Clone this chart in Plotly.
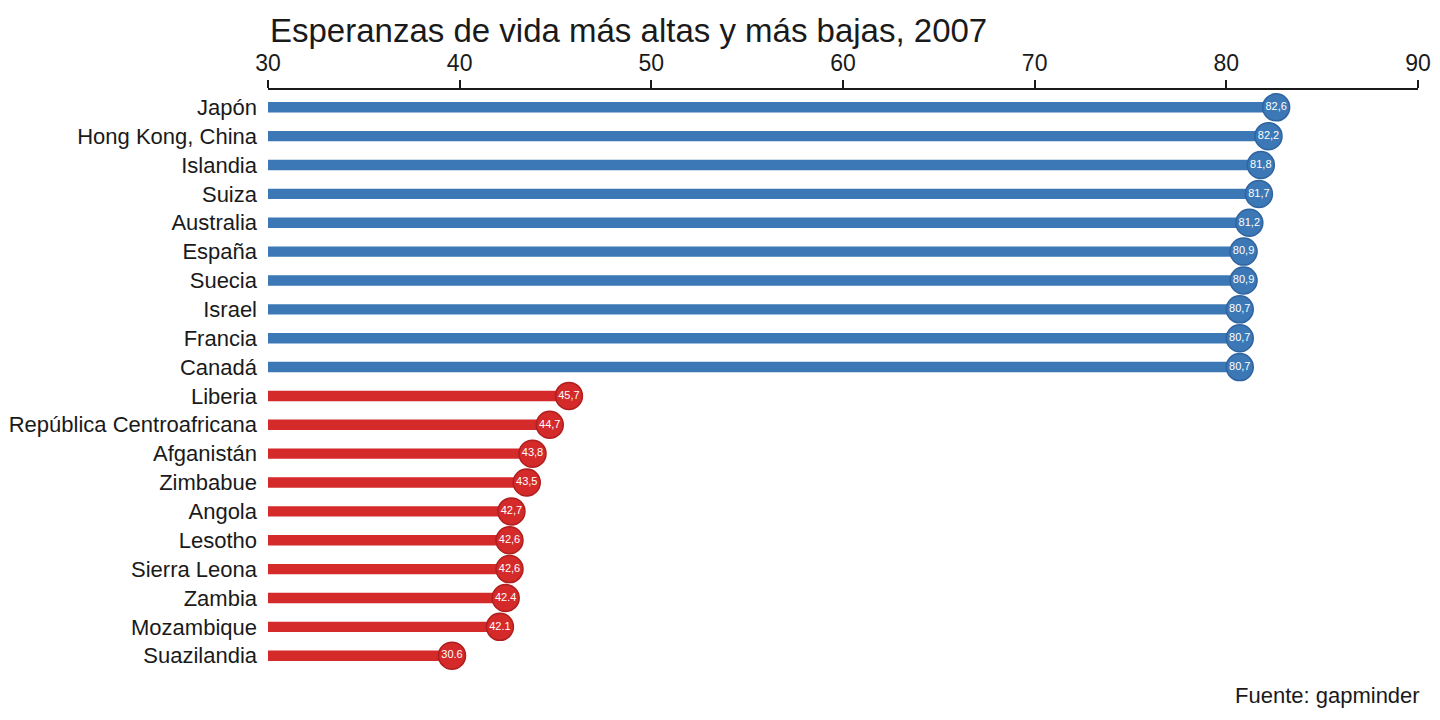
"""Lollipop chart: highest and lowest life expectancies, 2007."""

import plotly.graph_objects as go

# Data
countries = [
    "Japón", "Hong Kong, China", "Islandia", "Suiza", "Australia",
    "España", "Suecia", "Israel", "Francia", "Canadá",
    "Liberia", "República Centroafricana", "Afganistán", "Zimbabue", "Angola",
    "Lesotho", "Sierra Leona", "Zambia", "Mozambique", "Suazilandia",
]
life_exp = [
    82.6, 82.2, 81.8, 81.7, 81.2, 80.9, 80.9, 80.7, 80.7, 80.7,
    45.7, 44.7, 43.8, 43.5, 42.7, 42.6, 42.6, 42.4, 42.1, 39.6,
]
value_labels = [
    "82,6", "82,2", "81,8", "81,7", "81,2", "80,9", "80,9", "80,7", "80,7", "80,7",
    "45,7", "44,7", "43,8", "43,5", "42,7", "42,6", "42,6", "42.4", "42.1", "30.6",
]
group = ["alta"] * 10 + ["baja"] * 10
tick_vals = [30, 40, 50, 60, 70, 80, 90]

BASE = 30
BLUE = "#3b78b5"
BLUE_DARK = "#2f64a0"
RED = "#d42a2a"
RED_DARK = "#b01e1e"

bar_colors = [BLUE if g == "alta" else RED for g in group]
dot_colors = bar_colors
dot_lines = [BLUE_DARK if g == "alta" else RED_DARK for g in group]

fig = go.Figure()
fig.add_trace(
    go.Bar(
        y=countries,
        x=[v - BASE for v in life_exp],
        base=BASE,
        orientation="h",
        width=0.36,
        marker=dict(color=bar_colors, line=dict(width=0)),
        hoverinfo="skip",
    )
)
fig.add_trace(
    go.Scatter(
        y=countries,
        x=life_exp,
        mode="markers+text",
        text=value_labels,
        textposition="middle center",
        textfont=dict(size=11, color="white", family="Liberation Sans, Arial"),
        marker=dict(size=27, color=dot_colors, line=dict(color=dot_lines, width=1.5)),
        cliponaxis=False,
    )
)

# page body has an 8px margin, so the figure sits 8px in from the corner
fig.update_layout(
    width=1424,
    height=704,
    margin=dict(l=260, r=14, t=82, b=39),
    plot_bgcolor="white",
    paper_bgcolor="white",
    showlegend=False,
    font=dict(family="Liberation Sans, Arial", size=22, color="#1a1a1a"),
    xaxis=dict(
        side="top",
        range=[30, 90],
        tickvals=tick_vals,
        ticks="outside",
        ticklen=8,
        tickwidth=2,
        tickcolor="#1a1a1a",
        showline=True,
        linecolor="#1a1a1a",
        linewidth=2,
        showgrid=False,
        zeroline=False,
        automargin=False,
        tickfont=dict(size=23),
    ),
    yaxis=dict(
        autorange=False,
        range=[19.6, -0.6],
        showgrid=False,
        showline=False,
        zeroline=False,
        automargin=False,
        ticks="",
        ticklabelstandoff=10,
        tickfont=dict(size=22),
    ),
    annotations=[
        dict(
            text="Esperanzas de vida más altas y más bajas, 2007",
            xref="paper",
            yref="paper",
            x=0,
            y=1 + 80 / 583,
            xanchor="left",
            yanchor="top",
            showarrow=False,
            font=dict(size=33, color="#1a1a1a"),
        ),
        dict(
            text="Fuente: gapminder",
            xref="paper",
            yref="paper",
            x=1,
            xshift=4,
            y=-0.038,
            xanchor="right",
            yanchor="middle",
            showarrow=False,
            font=dict(size=22, color="#1a1a1a"),
        ),
    ],
)

fig.write_html("out.html")
